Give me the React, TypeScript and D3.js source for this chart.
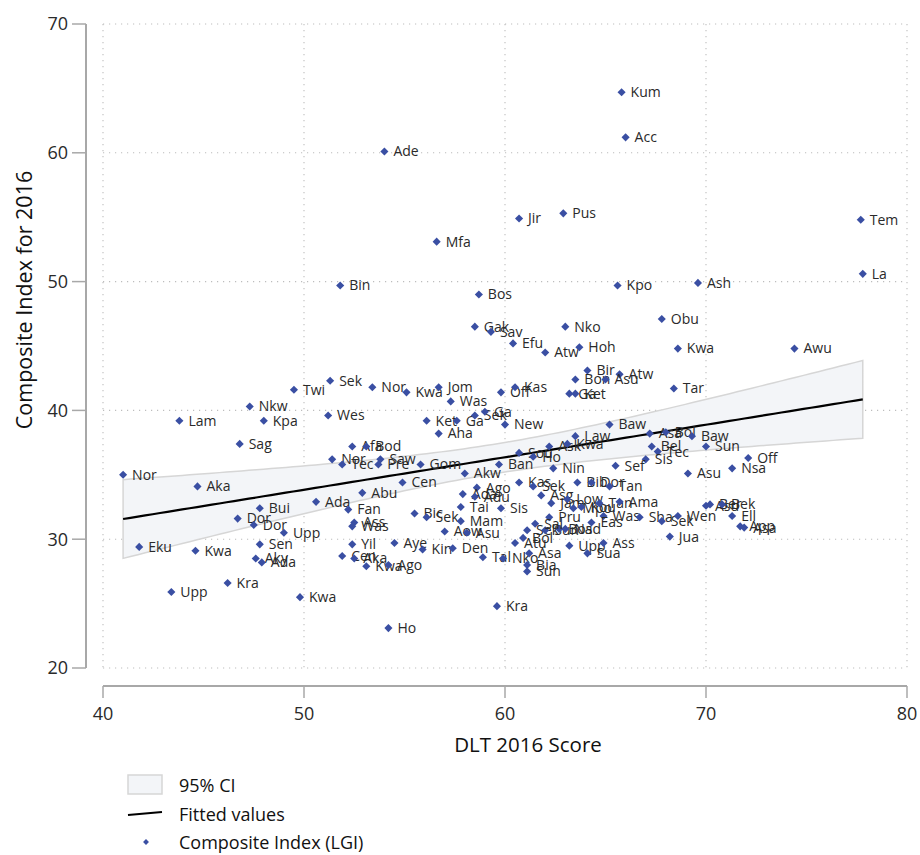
import * as d3 from "d3";

// district labels (truncated to 3 letters, as in the source graph)
const districts = [
  "Kum", "Acc", "Ade", "Mfa", "Jir", "Pus", "Tem", "La", "Bin", "Bos",
  "Kpo", "Ash", "Obu", "Gak", "Sav", "Nko", "Efu", "Atw", "Hoh", "Kwa",
  "Awu", "Bir", "Atw", "Bon", "Asu", "Tar", "Twi", "Sek", "Nor", "Kwa",
  "Jom", "Was", "Off", "Kas", "Ga", "Ket", "Nkw", "Lam", "Kpa", "Wes",
  "Ket", "Ga", "Sek", "Ga", "New", "Aha", "Baw", "Law", "Sag", "Afa",
  "Bod", "Ask", "Kwa", "Asa", "Bol", "Baw", "Sun", "Bel", "Tec", "Sis",
  "Off", "Nsa", "Asu", "Sef", "Sou", "Ho", "Ban", "Nin", "Nor", "Tec",
  "Saw", "Pre", "Gom", "Akw", "Cen", "Nor", "Aka", "Ago", "Kas", "Sek",
  "Bib", "Dor", "Tan", "Abu", "Ada", "Ada", "Adu", "Bui", "Fan", "Tai",
  "Sis", "Dor", "Dor", "Upp", "Ass", "Was", "Bic", "Sek", "Mam", "Aow",
  "Asu", "Eku", "Kwa", "Sen", "Aky", "Ada", "Yil", "Cen", "Aka", "Kwa",
  "Ago", "Aye", "Kin", "Den", "Tal", "Nko", "Upp", "Kra", "Kwa", "Ho",
  "Kra", "Asg", "Jam", "Low", "Mpo", "Kou", "Tan", "Ama", "Pru", "Was",
  "Eas", "Sha", "Sek", "Wen", "Jua", "Asu", "Ber", "Bek", "Ell", "App",
  "Asa", "Sek", "Sun", "Bos", "Nad", "Bol", "Sal", "Atu", "Upp", "Sua",
  "Ass", "Asa", "Bia", "Sun",
];

// DLT 2016 score (x)
const dltScore = [
  65.8, 66.0, 54.0, 56.6, 60.7, 62.9, 77.7, 77.8, 51.8, 58.7,
  65.6, 69.6, 67.8, 58.5, 59.3, 63.0, 60.4, 62.0, 63.7, 68.6,
  74.4, 64.1, 65.7, 63.5, 65.0, 68.4, 49.5, 51.3, 53.4, 55.1,
  56.7, 57.3, 59.8, 60.5, 63.2, 63.5, 47.3, 43.8, 48.0, 51.2,
  56.1, 57.6, 58.5, 59.0, 60.0, 56.7, 65.2, 63.5, 46.8, 52.4,
  53.1, 62.2, 63.1, 67.2, 68.0, 69.3, 70.0, 67.3, 67.6, 67.0,
  72.1, 71.3, 69.1, 65.5, 60.7, 61.4, 59.7, 62.4, 51.4, 51.9,
  53.8, 53.7, 55.8, 58.0, 54.9, 41.0, 44.7, 58.6, 60.7, 61.4,
  63.6, 64.3, 65.2, 52.9, 50.6, 57.9, 58.5, 47.8, 52.2, 57.8,
  59.8, 46.7, 47.5, 49.0, 52.5, 52.4, 55.5, 56.1, 57.8, 57.0,
  58.1, 41.8, 44.6, 47.8, 47.6, 47.9, 52.4, 51.9, 52.5, 53.1,
  54.2, 54.5, 55.9, 57.4, 58.9, 59.9, 43.4, 46.2, 49.8, 54.2,
  59.6, 61.8, 62.3, 63.1, 63.4, 63.8, 64.7, 65.7, 62.2, 64.9,
  64.3, 66.7, 67.8, 68.6, 68.2, 70.0, 70.2, 70.8, 71.3, 71.7,
  71.9, 61.1, 62.0, 62.7, 63.0, 60.9, 61.5, 60.5, 63.2, 64.1,
  64.9, 61.2, 61.1, 61.1,
];

// Composite Index (LGI) for 2016 (y)
const compositeIndex = [
  64.7, 61.2, 60.1, 53.1, 54.9, 55.3, 54.8, 50.6, 49.7, 49.0,
  49.7, 49.9, 47.1, 46.5, 46.1, 46.5, 45.2, 44.5, 44.9, 44.8,
  44.8, 43.1, 42.8, 42.4, 42.4, 41.7, 41.6, 42.3, 41.8, 41.4,
  41.8, 40.7, 41.4, 41.8, 41.3, 41.3, 40.3, 39.2, 39.2, 39.6,
  39.2, 39.2, 39.6, 39.9, 38.9, 38.2, 38.9, 38.0, 37.4, 37.2,
  37.2, 37.2, 37.4, 38.2, 38.3, 38.0, 37.2, 37.2, 36.8, 36.2,
  36.3, 35.5, 35.1, 35.7, 36.7, 36.4, 35.8, 35.5, 36.2, 35.8,
  36.2, 35.8, 35.8, 35.1, 34.4, 35.0, 34.1, 34.0, 34.4, 34.1,
  34.4, 34.4, 34.1, 33.6, 32.9, 33.5, 33.3, 32.4, 32.3, 32.5,
  32.4, 31.6, 31.1, 30.5, 31.3, 31.0, 32.0, 31.7, 31.4, 30.6,
  30.5, 29.4, 29.1, 29.6, 28.5, 28.2, 29.6, 28.7, 28.5, 27.9,
  28.0, 29.7, 29.2, 29.3, 28.6, 28.5, 25.9, 26.6, 25.5, 23.1,
  24.8, 33.4, 32.8, 33.1, 32.4, 32.5, 32.8, 32.9, 31.7, 31.8,
  31.3, 31.7, 31.4, 31.8, 30.2, 32.6, 32.7, 32.7, 31.8, 31.0,
  30.9, 30.7, 30.7, 30.8, 30.8, 30.1, 31.2, 29.7, 29.5, 28.9,
  29.7, 28.9, 28.0, 27.5,
];

const xTicks = [40, 50, 60, 70, 80];
const yTicks = [20, 30, 40, 50, 60, 70];
const legendItems = ["95% CI", "Fitted values", "Composite Index (LGI)"];

const FONT = "'Open Sans', 'Noto Sans', sans-serif";
const MARKER = "#3a4fa3";
const TEXT = "#2a2a2a";
const AXIS = "#a8a8a8";

export default function App() {
  const width = 920;
  const height = 855;
  const x = d3.scaleLinear().domain([40, 80]).range([103, 907]);
  const y = d3.scaleLinear().domain([20, 70]).range([668, 24]);

  // linear fit with 95% CI of the mean prediction
  const n = dltScore.length;
  const mx = d3.mean(dltScore)!;
  const my = d3.mean(compositeIndex)!;
  const sxx = d3.sum(dltScore, (d) => (d - mx) ** 2);
  const sxy = d3.sum(dltScore.map((d, i) => (d - mx) * (compositeIndex[i] - my)));
  const slope = sxy / sxx;
  const icpt = my - slope * mx;
  const rss = d3.sum(dltScore.map((d, i) => (compositeIndex[i] - icpt - slope * d) ** 2));
  const s = Math.sqrt(rss / (n - 2));
  const t = 1.976;
  const [x0, x1] = d3.extent(dltScore) as [number, number];
  const fit = d3.range(0, 101).map((i) => {
    const v = x0 + ((x1 - x0) * i) / 100;
    const yhat = icpt + slope * v;
    const se = s * Math.sqrt(1 / n + (v - mx) ** 2 / sxx);
    return { v, yhat, lo: yhat - t * se, hi: yhat + t * se };
  });

  const area = d3
    .area<{ v: number; lo: number; hi: number }>()
    .x((d) => x(d.v))
    .y0((d) => y(d.lo))
    .y1((d) => y(d.hi));
  const line = d3
    .line<{ v: number; yhat: number }>()
    .x((d) => x(d.v))
    .y((d) => y(d.yhat));
  const marker = d3.symbol().type(d3.symbolDiamond2).size(42)()!;

  const axisY = 686;
  const axisX = 86;

  return (
    <svg
      width={width}
      height={height}
      style={{ position: "absolute", left: 0, top: 0, background: "#fff" }}
      fontFamily={FONT}
    >
      {/* grid */}
      <g stroke="#bdbdbd" strokeWidth={1.1} strokeDasharray="1.2 4.8">
        {xTicks.map((d) => (
          <line key={"gx" + d} x1={x(d)} x2={x(d)} y1={y(70)} y2={y(20)} />
        ))}
        {yTicks.map((d) => (
          <line key={"gy" + d} x1={x(40)} x2={x(80)} y1={y(d)} y2={y(d)} />
        ))}
      </g>

      {/* CI band + fitted line */}
      <path d={area(fit)!} fill="#f3f5f8" stroke="#d6d6d6" strokeWidth={1.5} />
      <path d={line(fit)!} fill="none" stroke="#000" strokeWidth={2.2} />

      {/* points */}
      <g>
        {dltScore.map((d, i) => (
          <g key={i} transform={`translate(${x(d)},${y(compositeIndex[i])})`}>
            <path d={marker} fill={MARKER} />
            <text x={9} dy="0.35em" fontSize={14} fill={TEXT}>
              {districts[i]}
            </text>
          </g>
        ))}
      </g>

      {/* y axis */}
      <g>
        <line x1={axisX} x2={axisX} y1={y(70)} y2={y(20)} stroke={AXIS} strokeWidth={2} />
        {yTicks.map((d) => (
          <g key={"yt" + d}>
            <line x1={axisX - 14} x2={axisX} y1={y(d)} y2={y(d)} stroke={AXIS} strokeWidth={1.5} />
            <text x={68} y={y(d)} dy="0.35em" textAnchor="end" fontSize={18} fill={TEXT}>
              {d}
            </text>
          </g>
        ))}
        <text
          transform={`translate(24,300) rotate(-90)`}
          textAnchor="middle"
          dy="0.35em"
          fontSize={21.5}
          fill="#111"
        >
          Composite Index for 2016
        </text>
      </g>

      {/* x axis */}
      <g>
        <line x1={x(40)} x2={x(80)} y1={axisY} y2={axisY} stroke={AXIS} strokeWidth={2} />
        {xTicks.map((d) => (
          <g key={"xt" + d}>
            <line x1={x(d)} x2={x(d)} y1={axisY} y2={axisY + 12} stroke={AXIS} strokeWidth={1.5} />
            <text x={x(d)} y={714} dy="0.35em" textAnchor="middle" fontSize={18} fill={TEXT}>
              {d}
            </text>
          </g>
        ))}
        <text x={528} y={745} dy="0.35em" textAnchor="middle" fontSize={20.5} fill="#111">
          DLT 2016 Score
        </text>
      </g>

      {/* legend */}
      <g fontSize={18} fill="#111">
        <rect x={128} y={775} width={34} height={19} fill="#f3f5f8" stroke="#d6d6d6" strokeWidth={1.5} />
        <line x1={128} x2={162} y1={815} y2={812} stroke="#000" strokeWidth={2.2} />
        <path d={d3.symbol().type(d3.symbolDiamond2).size(22)()!} transform="translate(146,842)" fill={MARKER} />
        {legendItems.map((d, i) => (
          <text key={d} x={179} y={786 + i * 28.5} dy="0.35em">
            {d}
          </text>
        ))}
      </g>
    </svg>
  );
}
